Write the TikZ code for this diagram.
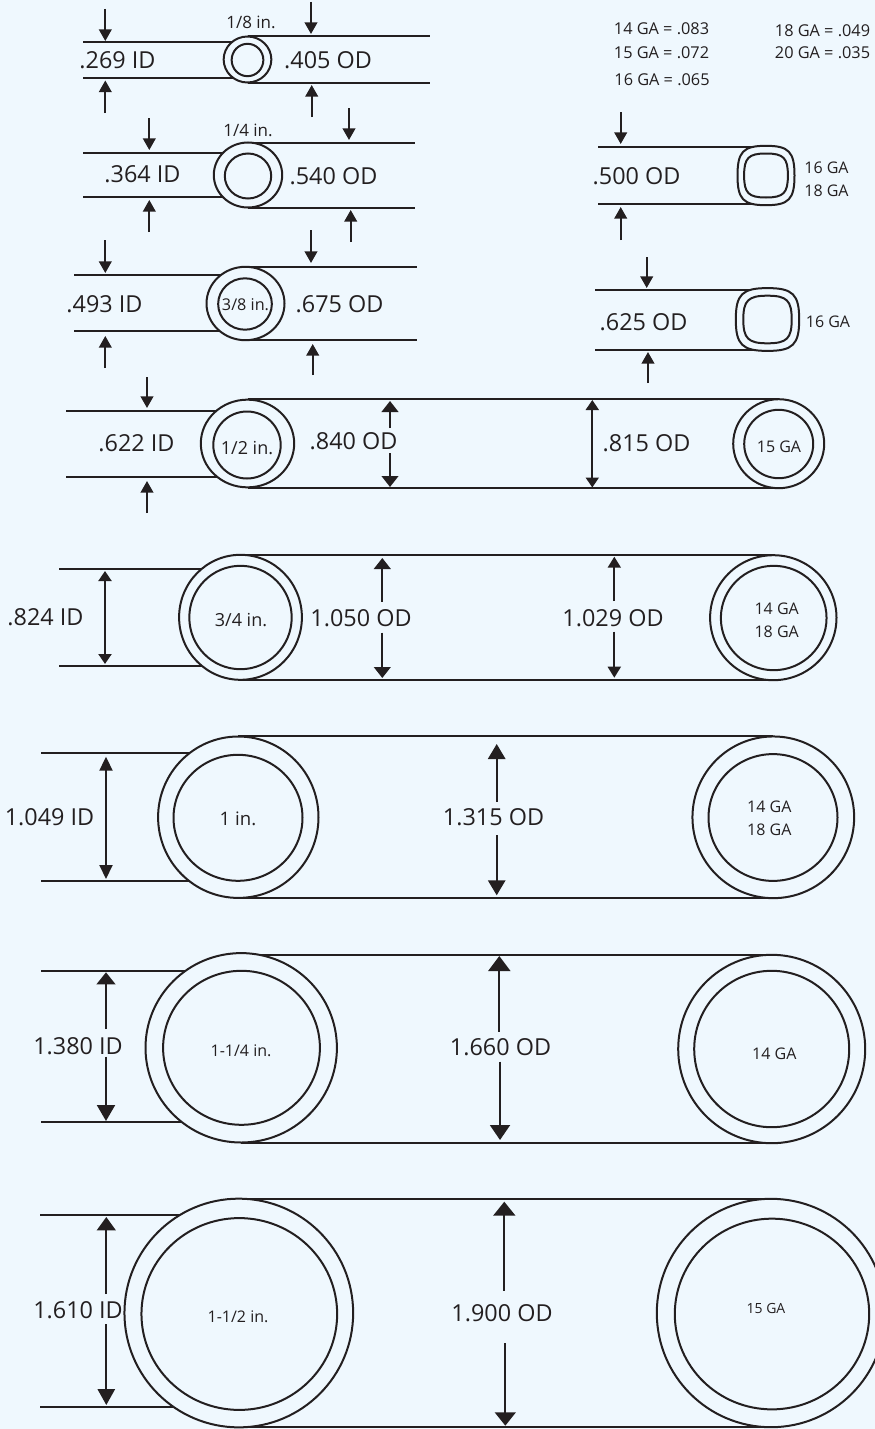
\documentclass[tikz,border=0pt]{standalone}
\usepackage{fontspec}
\setmainfont{Open Sans}
\usetikzlibrary{arrows.meta,backgrounds,shapes.geometric}
\definecolor{ink}{RGB}{35,31,32}
\definecolor{paper}{RGB}{239,248,254}
\begin{document}
\begin{tikzpicture}
    [   x=1pt,y=-1pt,every node/.style={text=ink,inner sep=0pt,outer sep=0pt},
        tube/.style 2 args={draw=ink,fill=paper,ellipse,line width=2pt,minimum width=#1pt,minimum height=#2pt},
        wall/.style={draw=ink,line width=2pt},
        dim/.style 2 args={draw=ink,line width=2pt,-{Triangle[length=#1pt,width=#2pt]}},
        biglabel/.style={font=\fontsize{23.4}{27}\selectfont},
        smalllabel/.style={font=\fontsize{#1}{23}\selectfont,align=center},
    ]
        \useasboundingbox (0,0) rectangle (875,1429);
        \begin{scope}[on background layer]
            \fill[paper] (0,0) rectangle (875,1429);
        \end{scope}
        % round tubes
        \foreach \n/\x/\y/\ow/\oh/\ix/\iy/\iw/\ih in
            {t1/247.5/59.5/47.7/46/247.5/60/31.7/32.4,
             t2/248/175/68.4/65/248/176/46.4/45,
             t3/245.5/303.5/78/73.4/245/304/53.7/51.4,
             t4/247.5/443.5/93.4/87.7/247/445/67.4/67,
             t5/240.5/617.3/122.8/125/240.5/617.5/102.4/103.4,
             t6/238.3/817.2/160.4/161.4/238/817.8/129/126,
             t7/241.2/1047.8/191.4/189.4/241.5/1047.8/156.8/154,
             t8/238.8/1313/228.7/228.7/239.3/1314/195.7/191.8,
             r4/778.7/443.7/91/89/778.7/444/69/68.4,
             r5/773.3/617.7/126.4/125/773.7/618/105.7/104.4,
             r6/773.3/817.3/161.7/161.7/773/817.5/129/126.8,
             r7/771.7/1049/187/188.4/771.7/1049/155/156.4,
             r8/771/1313/228.4/228.4/772/1314/194.4/190.7}
        {   \node[tube={\ow}{\oh}] (\n) at (\x,\y) {};
            \node[tube={\iw}{\ih}] (\n-in) at (\ix,\iy) {};
        }
        % rounded square tubes
        \foreach \n/\x/\y/\orx/\ory/\irx/\iry in
            {s1/766/175.5/28.5/29.7/21.9/22,
             s2/767.5/319.5/31.7/31.4/24.2/23.8}
        {   \coordinate (\n) at (\x,\y);
            \draw[tube={0}{0},shift={(\n)},x=\orx pt,y=\ory pt]
                (1,0) .. controls (1,.8) and (.8,1) .. (0,1) .. controls (-.8,1) and (-1,.8) .. (-1,0)
                .. controls (-1,-.8) and (-.8,-1) .. (0,-1) .. controls (.8,-1) and (1,-.8) .. (1,0) -- cycle;
            \draw[tube={0}{0},shift={(\n)},x=\irx pt,y=\iry pt]
                (1,0) .. controls (1,.8) and (.8,1) .. (0,1) .. controls (-.8,1) and (-1,.8) .. (-1,0)
                .. controls (-1,-.8) and (-.8,-1) .. (0,-1) .. controls (.8,-1) and (1,-.8) .. (1,0) -- cycle;
        }
        % walls, under the tubes
        \begin{scope}[on background layer]
            \foreach \n/\x/\yt/\yb in
                {t1/83/42.5/77.7,t2/83/153.3/196.7,t3/74/275/331.3,t4/66/411.3/476.7,
                 t5/59/569.3/665.7,t6/41/753/880.7,t7/41/970.7/1122.3,t8/40/1215.3/1407.3,
                 s1/598/147/203.7,s2/595/289.7/350}
            {   \coordinate (\n-lt) at (\x,\yt);
                \coordinate (\n-lb) at (\x,\yb);
                \draw[wall] (\n-lt) -- (\n-lt -| \n);
                \draw[wall] (\n-lb) -- (\n-lb -| \n);
            }
            \foreach \n/\x in {t1/430,t2/415,t3/417}
            {   \coordinate (\n-end) at (\x,0);
                \draw[wall] (\n.north) -- (\n.north -| \n-end);
                \draw[wall] (\n.south) -- (\n.south -| \n-end);
            }
            \foreach \n/\m in {t4/r4,t5/r5,t6/r6,t7/r7,t8/r8}
            {   \draw[wall] (\n |- \m.north) -- (\m.north);
                \draw[wall] (\n |- \m.south) -- (\m.south);
            }
        \end{scope}
        % dimension arrows
        \foreach \x/\ys/\ye/\l/\w [count=\i] in
            {105.3/9/41/11.7/12.7,105.3/113/80.5/11.7/12.7,311/2/34/11.7/12.7,311.7/117/85/11.7/12.7,
             149.3/118/150/11.7/12.7,149.3/232/200/11.7/12.7,349/108/140/11.7/12.7,350.7/242/210/11.7/12.7,
             105.3/240/273/11.7/12.7,105.3/368/336/11.7/12.7,311/230/263/11.7/12.7,312.7/375/344/11.7/12.7,
             147/377/408/11.7/12.7,147/513/481/11.7/12.7,
             620.7/112/144/11.7/12.7,620.7/240/207/11.7/12.7,646.7/257/288/11.7/12.7,648/383/352/11.7/12.7,
             390/428/401/11/16.7,390/453/487/11/16.7,
             592.3/444/400/10/13,592.3/444/487.5/10/13,
             105/617/571/10/13,105/617/664/10/13,
             382.3/601.7/558/11/16.7,382.3/632.7/678/11/16.7,
             614.3/601/556.7/11/13,614.3/631.7/677.7/11/13,
             106/817/756.7/14/13,106/817/879/14/13,
             496.7/801.7/744/15/17.3,496.7/835/895.3/15/17.3,
             106/1029/972.3/12/18.7,106/1056.7/1121/16/18,
             499.3/1031.7/956/15/22,500/1061.7/1140/15/20,
             106.3/1294/1217/13.3/18.7,106.3/1324/1405/16/17.3,
             504.3/1290.7/1201.7/14/22,505.3/1343.3/1425.7/13.3/20.7}
        {   \coordinate (d\i-a) at (\x,\ys);
            \coordinate (d\i-b) at (\x,\ye);
            \draw[dim={\l}{\w}] (d\i-a) -- (d\i-b);
        }
        % labels
        \foreach \n/\x/\y/\txt in
            {id1/117.5/60/.269 ID,od1/328/60/.405 OD,id2/142.5/174/.364 ID,od2/333.5/176/.540 OD,
             id3/104.5/304/.493 ID,od3/339.5/304/.675 OD,id4/136.5/443/.622 ID,od4/353.5/441/.840 OD,
             ga4/646.5/443/.815 OD,id5/45.5/617/.824 ID,od5/361/618/1.050 OD,ga5/613/618/1.029 OD,
             id6/49.5/817/1.049 ID,od6/493.5/817/1.315 OD,id7/78/1045.7/1.380 ID,od7/500.5/1047/1.660 OD,
             id8/78/1310/1.610 ID,od8/502/1312.7/1.900 OD,ods1/636.5/176/.500 OD,ods2/643.5/322/.625 OD}
        {   \node[biglabel] (\n) at (\x,\y) {\txt};
        }
        \foreach \n/\s/\x/\y/\txt in
            {n1/17/251/22/{1/8 in.},n2/17/248/130/{1/4 in.},n3/16.2/245.5/305/{3/8 in.},n4/18/247/448/{1/2 in.},
             n5/18/241/620/{3/4 in.},n6/18.6/238/819/{1 in.},n7/16/241/1051/{1-1/4 in.},n8/16/238/1317/{1-1/2 in.},
             g4/16/779/447/{15 GA},g5/16/776.7/620.5/{14 GA\\18 GA},g6/16/769.3/818/{14 GA\\18 GA},
             g7/16/774.3/1054/{14 GA},g8/14/766/1308/{15 GA},gs1/16/826.5/179/{16 GA\\18 GA},gs2/16/828/322/{16 GA},
             w14/16.3/661.5/29/{14 GA = .083},w15/16.3/661.5/53/{15 GA = .072},w16/16.3/662/80/{16 GA = .065},
             w18/16.3/822.5/31/{18 GA = .049},w20/16.3/822.5/53/{20 GA = .035}}
        {   \node[smalllabel=\s] (\n) at (\x,\y) {\txt};
        }
    \end{tikzpicture}
\end{document}
